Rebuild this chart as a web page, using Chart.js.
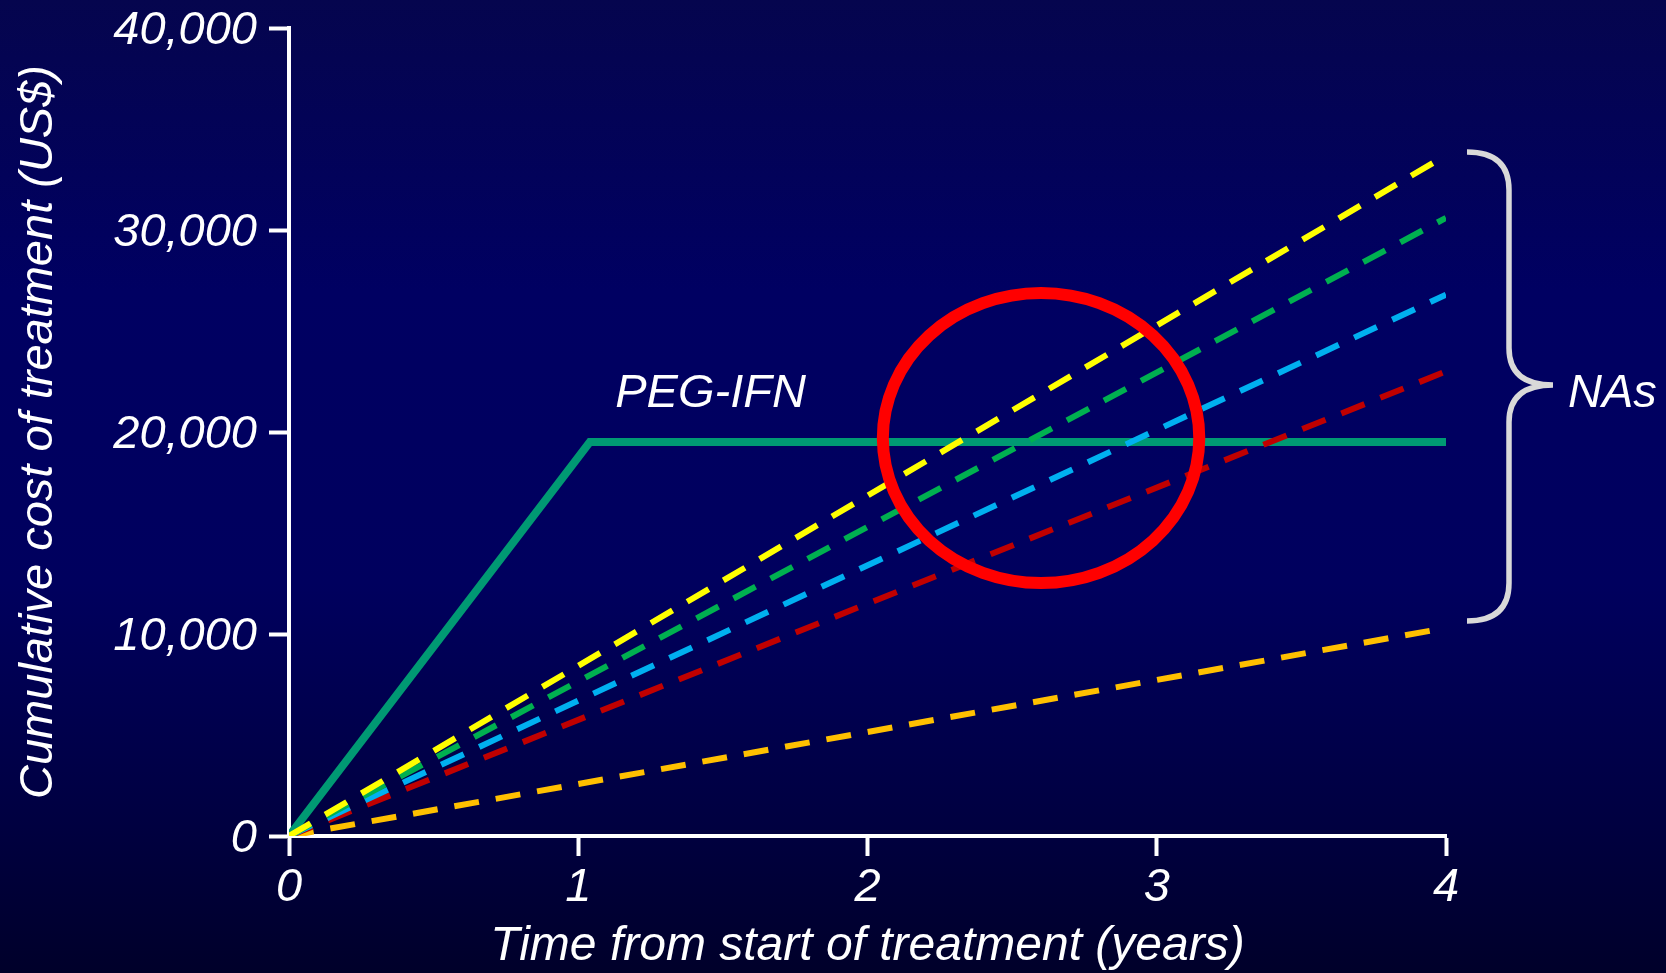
<!DOCTYPE html>
<html lang="en">
<head>
  <meta charset="UTF-8" />
  <title>Cumulative cost of treatment: PEG-IFN vs NAs</title>
  <script src="https://cdn.jsdelivr.net/npm/chart.js"></script>
  <style>
    html, body {
      margin: 0;
      padding: 0;
      background: #000040;
      overflow: hidden;
    }
    #costChart {
      display: block;
    }
  </style>
</head>
<body>
  <canvas id="costChart" width="1666" height="973"></canvas>

  <script>
    // ---- data ----
    const pegYears = [0, 1.04, 4];
    const pegCost = [0, 19500, 19500];

    const naYears = [0, 4];
    const naLabels = ['NA 1', 'NA 2', 'NA 3', 'NA 4', 'NA 5'];
    const naCostAt4 = [33700, 30600, 26800, 23000, 10300];
    const naColors = ['#ffff00', '#00b050', '#00b0f0', '#c00000', '#ffc000'];

    const xTicks = [0, 1, 2, 3, 4];
    const yTicks = [0, 10000, 20000, 30000, 40000];

    // highlight ring + brace (data units)
    const ring = { x: 2.6, y: 19700, rx: 0.547, ry: 7180 };
    const brace = { top: 33860, tip: 22330, bottom: 10640 };

    const FONT = "'Liberation Sans', Arial, sans-serif";

    const datasets = naLabels.map((label, i) => ({
      label,
      data: naYears.map((x, j) => ({ x, y: j === 0 ? 0 : naCostAt4[i] })),
      borderColor: naColors[i],
      borderWidth: 6,
      borderDash: [25, 17],
      borderCapStyle: 'butt',
      pointRadius: 0,
      fill: false
    }));
    datasets.push({
      label: 'PEG-IFN',
      data: pegYears.map((x, i) => ({ x, y: pegCost[i] })),
      borderColor: '#009973',
      borderWidth: 8,
      borderJoinStyle: 'miter',
      pointRadius: 0,
      fill: false
    });

    // background gradient, ring, brace and the two labels
    const decor = {
      id: 'decor',
      beforeDraw(chart) {
        const { ctx, width, height } = chart;
        const g = ctx.createLinearGradient(0, 0, 0, height);
        g.addColorStop(0, '#05054e');
        g.addColorStop(0.3, '#000062');
        g.addColorStop(0.6, '#00005e');
        g.addColorStop(0.85, '#000040');
        g.addColorStop(1, '#00002a');
        ctx.save();
        ctx.fillStyle = g;
        ctx.fillRect(0, 0, width, height);
        ctx.restore();
      },
      afterDraw(chart) {
        const { ctx } = chart;
        const xs = chart.scales.x, ys = chart.scales.y;

        // red ring
        const cx = xs.getPixelForValue(ring.x);
        const cy = ys.getPixelForValue(ring.y);
        const rx = xs.getPixelForValue(ring.x + ring.rx) - cx;
        const ry = cy - ys.getPixelForValue(ring.y + ring.ry);
        ctx.save();
        ctx.strokeStyle = '#ff0000';
        ctx.lineWidth = 12;
        ctx.beginPath();
        ctx.ellipse(cx, cy, rx, ry, 0, 0, Math.PI * 2);
        ctx.stroke();

        // brace
        const x0 = xs.getPixelForValue(4) + 21;
        const xv = x0 + 42;
        const xt = xv + 44;
        const yTop = ys.getPixelForValue(brace.top);
        const yTip = ys.getPixelForValue(brace.tip);
        const yBot = ys.getPixelForValue(brace.bottom);
        ctx.strokeStyle = '#d9d9d9';
        ctx.lineWidth = 5.5;
        ctx.beginPath();
        ctx.moveTo(x0, yTop);
        ctx.quadraticCurveTo(xv, yTop, xv, yTop + 38);
        ctx.lineTo(xv, yTip - 37);
        ctx.quadraticCurveTo(xv, yTip, xt, yTip);
        ctx.quadraticCurveTo(xv, yTip, xv, yTip + 37);
        ctx.lineTo(xv, yBot - 38);
        ctx.quadraticCurveTo(xv, yBot, x0, yBot);
        ctx.stroke();

        // labels
        ctx.fillStyle = '#ffffff';
        ctx.textBaseline = 'alphabetic';
        ctx.textAlign = 'left';
        ctx.font = 'italic 47px ' + FONT;
        ctx.fillText('NAs', xt + 15, yTip + 22);
        ctx.fillText('PEG-IFN', xs.getPixelForValue(1.128), ys.getPixelForValue(21240));
        ctx.restore();
      }
    };

    const tickFont = { family: FONT, size: 47, style: 'italic' };
    const titleFont = { family: FONT, size: 48, style: 'italic', lineHeight: 1.2 };

    new Chart(document.getElementById('costChart'), {
      type: 'line',
      data: { datasets },
      plugins: [decor],
      options: {
        responsive: false,
        animation: false,
        layout: { padding: { top: 28, right: 220, bottom: 0, left: 0 } },
        plugins: {
          legend: { display: false },
          tooltip: { enabled: false }
        },
        scales: {
          x: {
            type: 'linear',
            min: 0,
            max: 4,
            afterBuildTicks: (s) => { s.ticks = xTicks.map(v => ({ value: v })); },
            afterFit: (s) => { s.height = 137; },
            ticks: { color: '#ffffff', font: tickFont, padding: 4, maxRotation: 0 },
            grid: { display: true, drawOnChartArea: false, tickLength: 20, tickWidth: 4, tickColor: '#ffffff' },
            border: { display: true, color: '#ffffff', width: 4 },
            title: {
              display: true,
              text: 'Time from start of treatment (years)',
              color: '#ffffff',
              font: titleFont,
              padding: { top: 0, bottom: -2 }
            }
          },
          y: {
            type: 'linear',
            min: 0,
            max: 40000,
            afterBuildTicks: (s) => { s.ticks = yTicks.map(v => ({ value: v })); },
            afterFit: (s) => { s.width = 289; s.paddingTop = 0; s.paddingBottom = 0; },
            ticks: {
              color: '#ffffff',
              font: tickFont,
              padding: 12,
              labelOffset: 3,
              callback: (v) => v.toLocaleString('en-US')
            },
            grid: { display: true, drawOnChartArea: false, tickLength: 20, tickWidth: 4, tickColor: '#ffffff' },
            border: { display: true, color: '#ffffff', width: 4 },
            title: {
              display: true,
              text: 'Cumulative cost of treatment (US$)',
              color: '#ffffff',
              font: { family: FONT, size: 47, style: 'italic', lineHeight: 1.2 },
              padding: { top: 11, bottom: 0 }
            }
          }
        }
      }
    });
  </script>
</body>
</html>
